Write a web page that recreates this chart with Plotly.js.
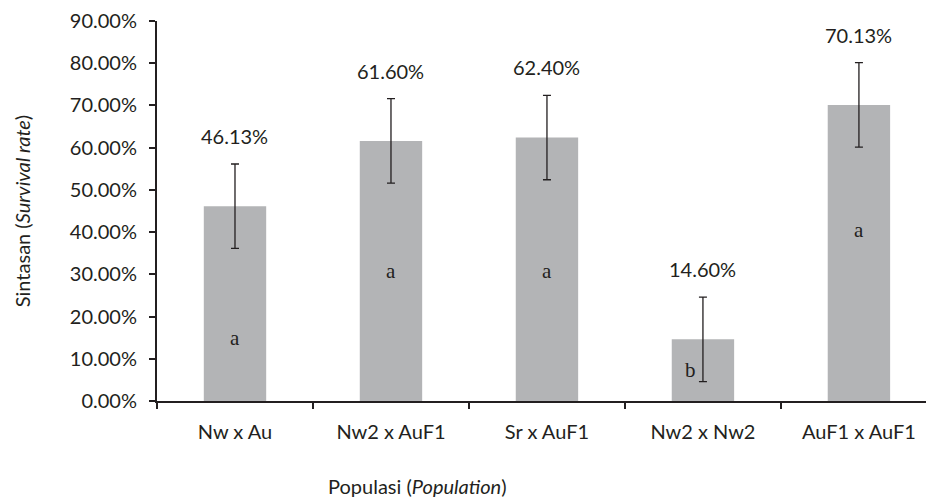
<!DOCTYPE html>
<html><head><meta charset="utf-8">
<script src="https://cdn.plot.ly/plotly-3.0.1.min.js"></script>
<style>body{margin:0;background:#fff}#c{width:926px;height:497px}</style>
</head><body><div id="c"></div>
<script>
const categories = ['Nw x Au', 'Nw2 x AuF1', 'Sr x AuF1', 'Nw2 x Nw2', 'AuF1 x AuF1'];
const survival = [46.13, 61.60, 62.40, 14.60, 70.13];
const errors = [10, 10, 10, 10, 10];
const letters = ['a', 'a', 'a', 'b', 'a'];
const letterY = [15, 30.8, 30.8, 7.3, 40.5];
const yTicks = [0, 10, 20, 30, 40, 50, 60, 70, 80, 90];

const FONT = 'Lato, "Open Sans", sans-serif';
const TXT = '#231f20';

const annotations = [];
survival.forEach((v, i) => {
  annotations.push({x: categories[i], y: v + errors[i], xref: 'x', yref: 'y',
    text: v.toFixed(2) + '%', showarrow: false, yanchor: 'bottom', yshift: 14,
    font: {family: FONT, size: 20, color: TXT}});
  annotations.push({x: categories[i], y: letterY[i], xref: 'x', yref: 'y',
    text: letters[i], showarrow: false, xshift: letters[i] === 'b' ? -12 : 0,
    font: {family: '"Liberation Serif", serif', size: 21, color: TXT}});
});
annotations.push({x: 0.339, y: 0, xref: 'paper', yref: 'paper', yanchor: 'middle',
  yshift: -85, text: 'Populasi (<i>Population</i>)', showarrow: false,
  font: {family: FONT, size: 20, color: TXT}});

Plotly.newPlot('c', [{
  type: 'bar', x: categories, y: survival,
  marker: {color: '#b3b4b6'},
  error_y: {type: 'data', array: errors, visible: true, color: '#231f20', thickness: 1.3, width: 4},
  hoverinfo: 'none'
}], {
  width: 926, height: 497,
  margin: {l: 157, r: 0, t: 21, b: 96},
  paper_bgcolor: '#fff', plot_bgcolor: '#fff',
  bargap: 0.6,
  showlegend: false,
  xaxis: {range: [-0.5, 4.43], tickson: 'boundaries', ticks: 'outside', ticklen: 6, tickwidth: 2,
    tickcolor: '#231f20', showline: true, linecolor: '#231f20', linewidth: 2,
    tickfont: {family: FONT, size: 20, color: TXT}, ticklabelstandoff: 12, showgrid: false, zeroline: false},
  yaxis: {range: [0, 90], tickvals: yTicks, ticktext: yTicks.map(t => t.toFixed(2) + '%'),
    ticks: 'outside', ticklen: 6, tickwidth: 2, tickcolor: '#231f20', ticklabelstandoff: 8,
    showline: true, linecolor: '#231f20', linewidth: 2, showgrid: false, zeroline: false,
    tickfont: {family: FONT, size: 20, color: TXT},
    title: {text: 'Sintasan (<i>Survival rate</i>)', standoff: 34, font: {family: FONT, size: 20, color: TXT}}},
  annotations: annotations
}, {staticPlot: true});
</script></body></html>
